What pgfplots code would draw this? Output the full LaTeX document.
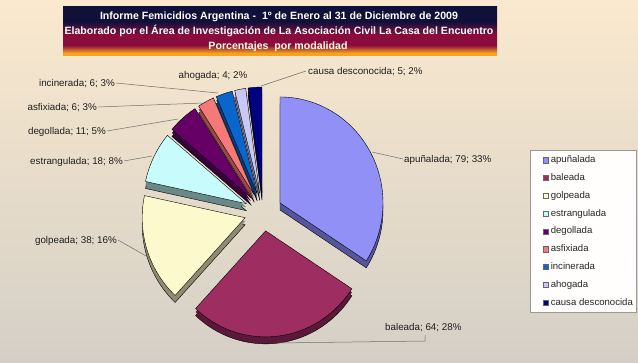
\documentclass[border=0pt]{standalone}
\usepackage{pgfplots}
\pgfplotsset{compat=1.18}
\usepackage{fontspec}
\setmainfont{Liberation Sans}
\definecolor{cA}{HTML}{9090F6}\definecolor{sA}{HTML}{55559E}
\definecolor{cB}{HTML}{9E2E62}\definecolor{sB}{HTML}{5C1838}
\definecolor{cC}{HTML}{FCFACC}\definecolor{sC}{HTML}{8E8C70}
\definecolor{cD}{HTML}{C8FCFC}\definecolor{sD}{HTML}{6A8888}
\definecolor{cE}{HTML}{660066}\definecolor{sE}{HTML}{380038}
\definecolor{cF}{HTML}{F47A7A}\definecolor{sF}{HTML}{984848}
\definecolor{cG}{HTML}{0A66CC}\definecolor{sG}{HTML}{053C7A}
\definecolor{cH}{HTML}{C8C8F8}\definecolor{sH}{HTML}{7C7CA0}
\definecolor{cI}{HTML}{000080}\definecolor{sI}{HTML}{000040}
\definecolor{bgT}{HTML}{FAE9CE}\definecolor{bgM}{HTML}{F0E4D0}\definecolor{bgB}{HTML}{D4CFC6}
\definecolor{tOr}{HTML}{F6A41E}\definecolor{tMa}{HTML}{8A0C3C}\definecolor{tNa}{HTML}{10103A}
\definecolor{lead}{HTML}{6E6E6E}
\pgfdeclareverticalshading{titleshade}{100bp}{color(0bp)=(tOr); color(27bp)=(tOr); color(35bp)=(tMa); color(46bp)=(tMa); color(59bp)=(tNa); color(100bp)=(tNa)}
\def\slicelist{79/cA/sA, 64/cB/sB, 38/cC/sC, 18/cD/sD, 11/cE/sE, 6/cF/sF, 6/cG/sG, 4/cH/sH, 5/cI/sI}
\def\tot{231}
\begin{document}
\begin{tikzpicture}
\shade[top color=bgT, middle color=bgM, bottom color=bgB] (0,0) rectangle (638pt,362pt);
\begin{axis}[width=638pt, height=362pt, scale only axis,
  xmin=0, xmax=638, ymin=0, ymax=362, y dir=reverse,
  hide axis, clip=false,
  legend entries={apuñalada, baleada, golpeada, estrangulada, degollada, asfixiada, incinerada, ahogada, causa desconocida},
  legend cell align=left,
  legend image code/.code={\path (-10pt,0pt); \draw[#1, draw=black!60, line width=0.3pt] (0pt,-2.6pt) rectangle (5.2pt,2.6pt);},
  legend style={at={(axis cs:530,150)}, anchor=north west, draw=black!40, fill=white!94!bgT,
    font=\fontsize{9.6}{10}\selectfont, text=black!85, inner xsep=3pt, inner ysep=5.5pt, row sep=8.8pt,
    nodes={inner sep=0pt, text height=7pt, text depth=2pt},
    /tikz/every odd column/.append style={column sep=2pt}},
]
% title box
\shade[shading=titleshade] (63,6) rectangle (497,55);
\node[anchor=base, text=white, font=\fontsize{10.6}{11}\selectfont\bfseries, inner sep=0pt] at (279,19.8) {Informe Femicidios Argentina -\ \ 1º de Enero al 31 de Diciembre de 2009};
\node[anchor=base, text=white, font=\fontsize{10.6}{11}\selectfont\bfseries, inner sep=0pt] at (279,34.6) {Elaborado por el Área de Investigación de La Asociación Civil La Casa del Encuentro};
\node[anchor=base, text=white!90!yellow, font=\fontsize{10.6}{11}\selectfont\bfseries, inner sep=0pt] at (278,49) {Porcentajes\ \ por modalidad};
% pie sides
\gdef\acc{90}
\foreach \v/\fc/\sc in \slicelist {
  \pgfmathsetmacro\aend{\acc-\v/\tot*360}
  \pgfmathsetmacro\amid{(\acc+\aend)/2}
  \pgfmathsetmacro\cx{263.3+19*cos(\amid)}
  \pgfmathsetmacro\cyb{212-19*sin(\amid)+7}
  \pgfmathsetmacro\cym{212-19*sin(\amid)+3.5}
  \pgfmathtruncatemacro\ns{max(5,(\acc-\aend)/2)}
  \edef\doit{\noexpand\addplot[forget plot, fill=\sc, draw=black, line width=0.4pt, domain=\aend:\acc, samples=\ns] ({\cx+103*cos(x)},{\cyb-106*sin(x)}) -- (\cx,\cyb) -- cycle;
   \noexpand\addplot[forget plot, fill=\sc, draw=none, domain=\aend:\acc, samples=\ns] ({\cx+103*cos(x)},{\cym-106*sin(x)}) -- (\cx,\cym) -- cycle;}
  \doit
  \xdef\acc{\aend}
}
% pie tops
\gdef\acc{90}
\foreach \v/\fc/\sc in \slicelist {
  \pgfmathsetmacro\aend{\acc-\v/\tot*360}
  \pgfmathsetmacro\amid{(\acc+\aend)/2}
  \pgfmathsetmacro\cx{263.3+19*cos(\amid)}
  \pgfmathsetmacro\cy{212-19*sin(\amid)}
  \pgfmathtruncatemacro\ns{max(5,(\acc-\aend)/2)}
  \edef\doit{\noexpand\addplot[fill=\fc, draw=black, line width=0.4pt, domain=\aend:\acc, samples=\ns] ({\cx+103*cos(x)},{\cy-106*sin(x)}) -- (\cx,\cy) -- cycle;}
  \doit
  \xdef\acc{\aend}
}
% leader lines
\draw[lead, line width=0.5pt] (116,83) -- (218,93);
\draw[lead, line width=0.5pt] (98,107) -- (203,103);
\draw[lead, line width=0.5pt] (107,131) -- (178,119);
\draw[lead, line width=0.5pt] (124,161) -- (152,156);
\draw[lead, line width=0.5pt] (118,240) -- (148,257);
\draw[lead, line width=0.5pt] (306,71) -- (261,86);
\draw[lead, line width=0.5pt] (403,159) -- (372,152);
\draw[lead, line width=0.5pt] (278,343) -- (425,341) -- (425,335);
% labels
\begin{scope}[every node/.style={inner sep=0pt, text=black!88, font=\fontsize{9.8}{11}\selectfont}]
\node[anchor=base east] at (115,86.5) {incinerada; 6; 3\%};
\node[anchor=base east] at (97,110.5) {asfixiada; 6; 3\%};
\node[anchor=base east] at (106,134.5) {degollada; 11; 5\%};
\node[anchor=base east] at (123,164.5) {estrangulada; 18; 8\%};
\node[anchor=base east] at (117,243.5) {golpeada; 38; 16\%};
\node[anchor=base] at (213,78) {ahogada; 4; 2\%};
\node[anchor=base west] at (308,74.5) {causa desconocida; 5; 2\%};
\node[anchor=base west] at (404,162.5) {apuñalada; 79; 33\%};
\node[anchor=base west] at (385,330.5) {baleada; 64; 28\%};
\end{scope}
\end{axis}
\end{tikzpicture}
\end{document}
